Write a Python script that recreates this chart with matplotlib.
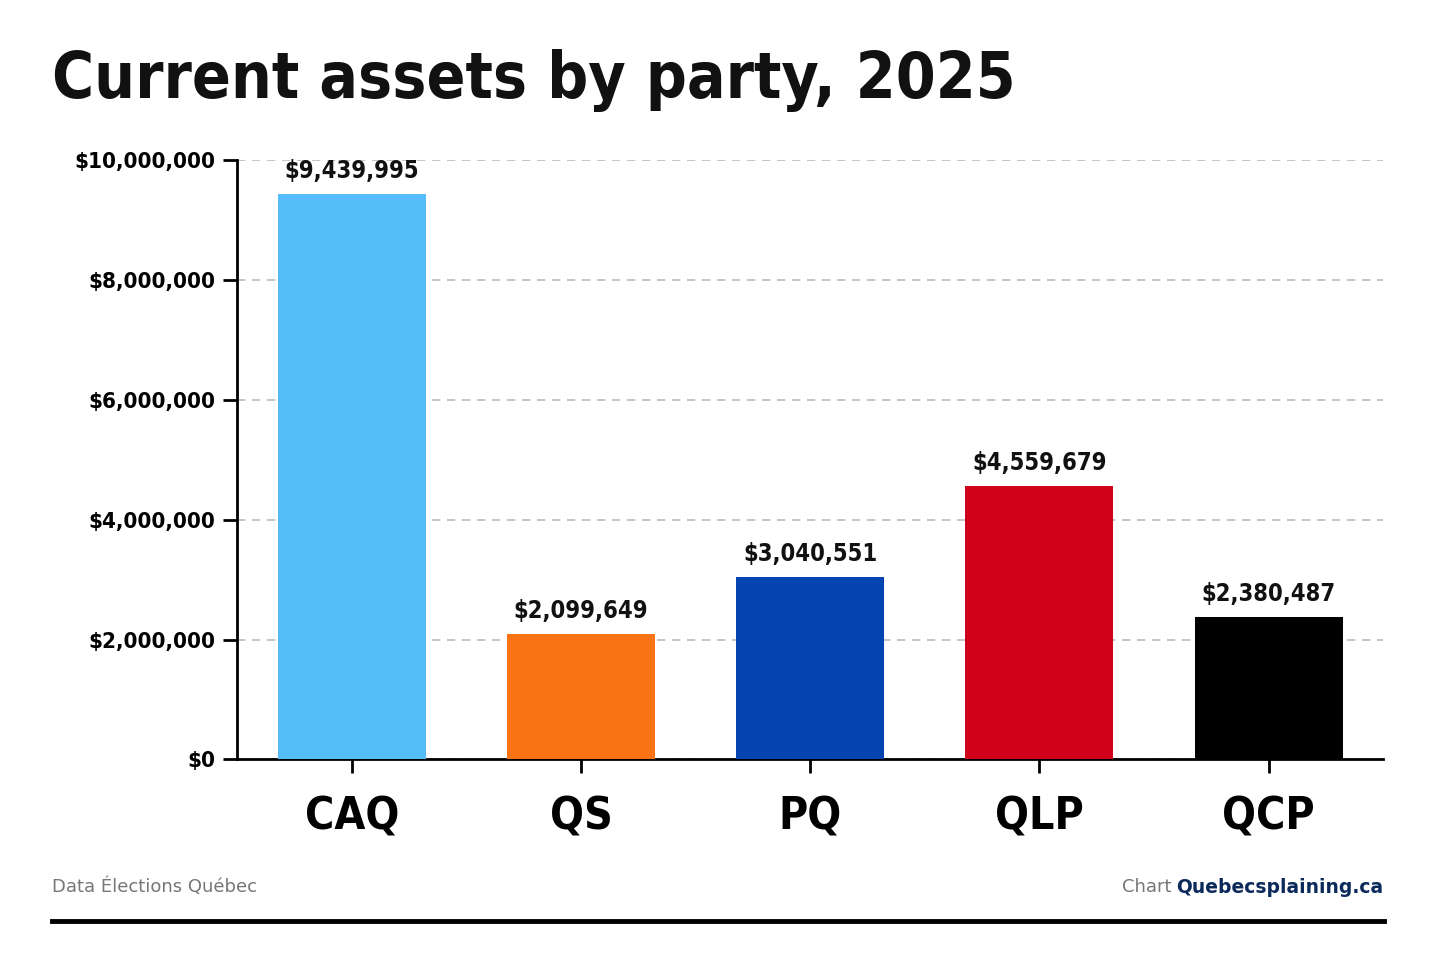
import matplotlib.pyplot as plt
from matplotlib.ticker import FuncFormatter, MultipleLocator

parties = ["CAQ", "QS", "PQ", "QLP", "QCP"]
assets = [9439995, 2099649, 3040551, 4559679, 2380487]
colors = ["#55BDF9", "#FA7315", "#0444B0", "#D0021B", "#000000"]

plt.rcParams['font.family'] = ['DejaVu Sans']
plt.rcParams['font.stretch'] = 'condensed'

fig = plt.figure(figsize=(14.56, 9.71), dpi=100)
ax = fig.add_axes([0.163, 0.218, 0.787, 0.617])

ax.bar(range(len(parties)), assets, width=0.646, color=colors, zorder=3)
for i, v in enumerate(assets):
    ax.text(i, v + 180000, f"${v:,}", ha='center', va='bottom',
            fontsize=17, fontweight='bold', color='#111111', stretch='condensed')

ax.set_xlim(-0.5, 4.5)
ax.set_ylim(0, 10000000)
ax.yaxis.set_major_locator(MultipleLocator(2000000))
ax.yaxis.set_major_formatter(FuncFormatter(lambda v, p: f"${v:,.0f}"))
ax.set_xticks(range(len(parties)))
ax.set_xticklabels(parties, fontsize=32, fontweight='bold', stretch='condensed')
for lab in ax.get_yticklabels():
    lab.set_fontweight('bold')
ax.tick_params(axis='y', labelsize=16, length=10, width=2, pad=6)
ax.tick_params(axis='x', length=10, width=2, pad=16)
for lab in ax.get_yticklabels():
    lab.set_fontweight('bold')
    lab.set_stretch('condensed')
ax.grid(axis='y', linestyle=(0, (5, 4)), color='#bbbbbb', lw=1.2, zorder=0)
for s in ['top', 'right']:
    ax.spines[s].set_visible(False)
for s in ['left', 'bottom']:
    ax.spines[s].set_linewidth(2)

fig.text(52/1456, 1 - 80/971, "Current assets by party, 2025", fontsize=46,
         fontweight='bold', color='#111111', va='center', ha='left', stretch='condensed')

fig.text(52/1456, 1 - 887/971, "Data Élections Québec", fontsize=13,
         color='#777777', va='center', stretch='normal')
t = fig.text(1383/1456, 1 - 887/971, "Quebecsplaining.ca", fontsize=13.5, fontweight='bold',
             color='#0B2A5B', va='center', ha='right', stretch='normal')
fig.canvas.draw()
bb = t.get_window_extent()
fig.text(bb.x0 / 1456 - 0.003, 1 - 887/971, "Chart", fontsize=13, color='#777777',
         va='center', ha='right', stretch='normal')

fig.add_artist(plt.Line2D([52/1456, 1384/1456], [1 - 921/971] * 2, color='black', lw=3.5))

fig.savefig("out.png", dpi=100)
